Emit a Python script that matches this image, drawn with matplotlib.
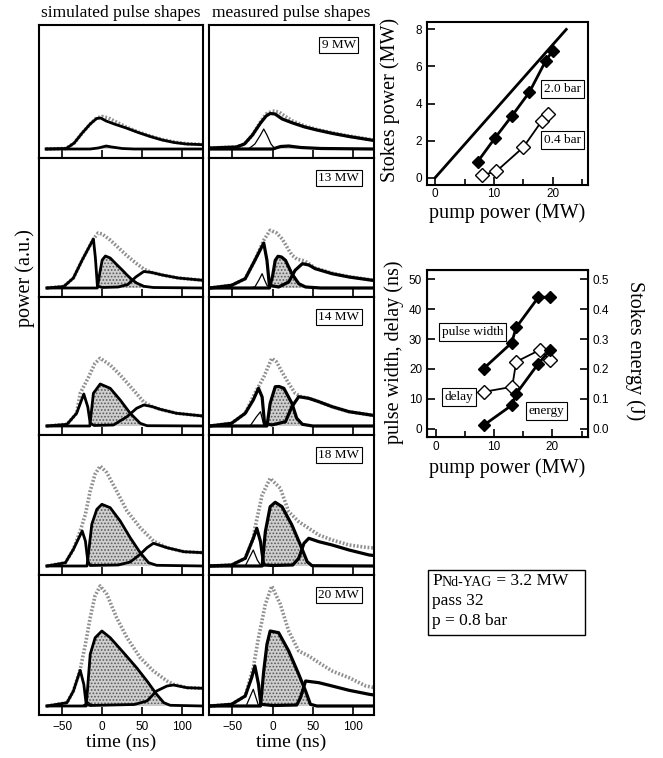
import numpy as np
import matplotlib
matplotlib.use('Agg')
import matplotlib.pyplot as plt
from matplotlib.patches import Rectangle
from matplotlib.ticker import MultipleLocator

# ---------------- data: pulse shapes (time ns, power a.u.) ----------------
row_labels = ['9 MW', '13 MW', '14 MW', '18 MW', '20 MW']
time_ticks = [-50, 0, 50, 100]

sim09_input = [(-70,0),(-45,0.5),(-35,6),(-25,16),(-15,25),(-7,31),(0,32.5),(8,31),(15,28),(30,22),(45,17),(60,13),(75,9.5),(90,7),(105,5.3),(126,4.5)]
sim09_pump = [(-70,0),(-45,0.5),(-35,6),(-25,16),(-15,25),(-7,30.5),(-2,31),(5,28),(15,25),(30,21),(45,16.5),(60,12.5),(75,9),(90,6.5),(105,5),(126,4.3)]
sim09_stokes = [(-70,0),(-15,0),(-5,1),(5,3),(12,2),(25,0.5),(40,0),(126,0)]

mea09_input = [(-78,1),(-45,2),(-35,5),(-25,14),(-15,27),(-8,35),(0,38),(8,37),(15,33),(25,28),(40,23),(55,19.5),(75,16),(95,13),(126,9)]
mea09_pump = [(-78,1),(-45,2),(-35,5),(-25,14),(-15,26),(-8,33),(-3,35.5),(3,35),(12,30),(25,26),(40,22),(55,19),(75,15.5),(95,12.5),(126,8.5)]
mea09_stokes = [(-78,0),(0,0),(10,2.5),(20,3),(35,1.5),(60,0.5),(126,0)]
mea09_thin = [(-30,0),(-22,5),(-15,14),(-11,20),(-7,14),(-2,5),(3,0)]

sim13_input = [(-69,0),(-48,1.5),(-36,10),(-25,28),(-15,43),(-11,49),(-5,55),(0,54),(10,48),(18,42),(30,33),(42,25),(52,19),(62,15.5),(75,13),(95,10),(126,7.7)]
sim13_pump = [(-69,0),(-48,1.5),(-36,10),(-25,28),(-15,43),(-11,49),(-8.5,30),(-6,2),(0,0.5),(20,1),(32,3.5),(42,11),(52,16.5),(62,15.5),(75,13),(95,10),(126,7.7)]
sim13_stokes = [(-69,0),(-6,0),(-3,15),(0,28),(4,32),(10,30),(18,23.5),(25,18),(31,13),(37,8.5),(43,5),(52,1.7),(64,0.5),(126,0)]

mea13_input = [(-78,0),(-51,2.7),(-34,9.3),(-22,27.7),(-11,47.7),(-3,57.7),(5,55),(12,49),(20,38),(24,33),(30,29),(40,27),(53,20),(74,14.8),(95,11.3),(126,7.7)]
mea13_pump = [(-78,0),(-51,2.7),(-34,9.3),(-22,27.7),(-11,45),(-7,27.7),(-4,2.7),(7.5,1),(20,6),(28,17.7),(37,24.3),(45,23),(53,19.3),(74,14.3),(95,11),(126,7.5)]
mea13_stokes = [(-78,0),(-4,0),(0,12),(3.3,27.7),(6.7,31.7),(11,31),(16,27.7),(24,14.3),(32.5,4.3),(41,1),(60,0),(126,0)]
mea13_thin = [(-30,0),(-22,1),(-17,8),(-13,14.3),(-10,8),(-7,2.7),(-3,0)]

sim14_input = [(-69,0),(-44,1.7),(-32,12.7),(-27.5,32.7),(-17,49),(-9,62.7),(-2.5,67.7),(10,61),(22.5,51),(39,36),(52,24),(62,19.5),(72.5,16.7),(93,12.7),(126,10)]
sim14_pump = [(-69,0),(-44,1.7),(-32,12.7),(-23,32),(-18,19),(-15,2.7),(-10,0.5),(14,1),(31,9.3),(43,17.7),(52,21),(62,19.5),(72.5,16.7),(93,12.7),(126,10)]
sim14_stokes = [(-69,0),(-15.5,0),(-13,18),(-11,32.7),(-2.5,42),(10,37.7),(22.5,26),(35,12.7),(47.5,2.7),(56,0.3),(126,0)]

mea14_input = [(-78,0),(-51,2.7),(-34,12.7),(-22,32.7),(-11,49),(-1,67.7),(5,64),(11.7,54),(20,42.7),(28,32.7),(35,29.5),(45,27.7),(57.5,24.3),(74,19.3),(95,14.3),(126,10.5)]
mea14_pump = [(-78,0),(-51,2.7),(-34,12.7),(-24,26),(-17.5,37.7),(-13,29),(-10,2.7),(-1,1),(16,4.3),(24,19.3),(32.5,29.3),(45,27.7),(57.5,24.3),(74,19.3),(95,14.3),(126,10.5)]
mea14_stokes = [(-78,0),(-7,0),(-3,22.7),(3.3,39.3),(8,39.5),(14,37.7),(24,22.7),(30,7.7),(37,1.7),(50,0),(126,0)]
mea14_thin = [(-28,0),(-20,9.3),(-15,14.3),(-11,1),(-8,0)]

sim18_input = [(-69,0),(-46,3.3),(-36,16.7),(-27.5,35),(-21,51.7),(-15,75),(-9,91.7),(-2.5,100),(5.8,93.3),(18,75),(31,55),(47.5,38.3),(64,25),(81,18.3),(102,14.3),(126,13.3)]
sim18_pump = [(-69,0),(-46,3.3),(-36,16.7),(-25,35),(-21,25),(-18,5),(-15,0.5),(20,1),(35,4),(47.5,11.7),(56,18.3),(64,22.7),(81,18.3),(102,14.3),(126,13.3)]
sim18_stokes = [(-69,0),(-19,0),(-13,41.7),(-6.7,56.7),(-0.4,61.7),(10,58.3),(22.5,45),(35,28.3),(47.5,13.3),(58,3.3),(68,0.7),(126,0)]

mea18_input = [(-78,0),(-51,1),(-34,7.7),(-24,27.7),(-22,37.7),(-13,71),(-3,87.7),(9.6,77.7),(20,54.3),(32.5,44.3),(45,37.7),(57.5,31),(74,26),(95,21),(116,18.7),(126,18)]
mea18_pump = [(-78,0),(-51,1),(-34,7.7),(-24,27.7),(-19.6,37.7),(-15,24.3),(-11,1),(0,0.5),(25,1),(32.5,7.7),(39,22.7),(45,27.7),(57.5,24.3),(74,21),(95,16),(120,11),(126,10.5)]
mea18_stokes = [(-78,0),(-13,0),(-9,34.3),(-3,59.3),(3.3,63.7),(11.7,59.3),(24,41),(34.6,21),(43,4.3),(49,0.3),(126,0)]
mea18_thin = [(-34,0),(-29,8),(-24,16),(-19,6),(-15,1),(-12,0)]

sim20_input = [(-69,0),(-44,3.3),(-36,15),(-27.5,36.7),(-21,61.7),(-15,88.3),(-9,110),(-2.5,120),(5.8,111.7),(18,88.3),(31,68.3),(47.5,48.3),(64,35),(81,25),(89,21.7),(106,18.3),(126,17.7)]
sim20_pump = [(-69,0),(-44,3.3),(-36,15),(-27.5,35.7),(-23,21.7),(-20,1.7),(-15,0.5),(40,1.5),(56,5),(68,15),(81,20),(89,21),(106,18.3),(126,17.7)]
sim20_stokes = [(-69,0),(-20,0),(-15,51.7),(-8.8,68.3),(-0.4,75),(10,68.3),(26.7,53.3),(43,38.3),(56,25),(68,11.7),(77,3.3),(85,0.7),(126,0)]
sim20_thin = [(-25,0),(-18,4),(-12,0.5)]

mea20_input = [(-78,0),(-51,1.7),(-34,10),(-24,38.3),(-17.5,68.3),(-9,101.7),(-1,120),(9.6,101.7),(20,75),(32.5,55),(45,50),(57.5,43.3),(74,35),(95,28.3),(116,20),(126,18.5)]
mea20_pump = [(-78,0),(-51,1.7),(-34,10),(-26,28.3),(-22,40),(-17.5,21.7),(-14.6,1.7),(0,0.5),(30,1),(34.6,8.3),(41,25),(57.5,23.3),(74,20),(95,15.7),(120,11.7),(126,11)]
mea20_stokes = [(-78,0),(-15,0),(-11,35),(-7,61.7),(-3,75),(7.5,73.3),(20,55),(32.5,31.7),(41,15),(47,1.7),(55,0),(126,0)]
mea20_thin = [(-32,1.7),(-24,16.7),(-18,1.7),(-15,0)]

# ---------------- data: Stokes power vs pump power ----------------
limit_pump = [0, 22.3]
limit_stokes = [0, 8.0]
pump_2bar = [7.2, 10.2, 13.1, 16.0, 18.8, 20.0]
stokes_2bar = [0.85, 2.15, 3.35, 4.6, 6.3, 6.85]
pump_04bar = [7.9, 10.4, 15.0, 18.1, 19.2]
stokes_04bar = [0.12, 0.34, 1.64, 3.04, 3.44]

# ---------------- data: pulse width, delay, energy ----------------
pw_pump = [8.2, 13.0, 13.8, 17.6, 19.5]
pulse_width = [20.1, 28.7, 33.9, 44.0, 44.0]
delay_pump = [8.2, 13.1, 13.8, 17.8, 19.6]
delay_ns = [12.3, 14.0, 22.4, 26.3, 22.9]
energy_pump = [8.2, 13.0, 13.8, 17.6, 19.6]
energy_j = [0.011, 0.078, 0.117, 0.218, 0.263]

# ---------------- figure ----------------
plt.rcParams['font.family'] = ['Liberation Serif', 'DejaVu Serif']
plt.rcParams['hatch.color'] = '#505050'
plt.rcParams['hatch.linewidth'] = 0.8
SANS = ['Liberation Sans', 'DejaVu Sans']

W, H = 663, 758
fig = plt.figure(figsize=(W / 100, H / 100), dpi=100)


def rect(l, t, r, b):
    return [l / W, 1 - b / H, (r - l) / W, (b - t) / H]


row_tops = [25, 158, 297, 435, 575]
row_bots = [158, 297, 435, 575, 715]
col_x = [(39, 203), (209, 374)]

sim_sets = [(sim09_input, sim09_pump, sim09_stokes, None),
            (sim13_input, sim13_pump, sim13_stokes, None),
            (sim14_input, sim14_pump, sim14_stokes, None),
            (sim18_input, sim18_pump, sim18_stokes, None),
            (sim20_input, sim20_pump, sim20_stokes, sim20_thin)]
mea_sets = [(mea09_input, mea09_pump, mea09_stokes, mea09_thin),
            (mea13_input, mea13_pump, mea13_stokes, mea13_thin),
            (mea14_input, mea14_pump, mea14_stokes, mea14_thin),
            (mea18_input, mea18_pump, mea18_stokes, mea18_thin),
            (mea20_input, mea20_pump, mea20_stokes, mea20_thin)]


def draw_panel(ax, curves, lw_main):
    inp, pump, stokes, thin = curves
    t, p = np.array(inp, dtype=float).T
    ax.plot(t, p, color='#909090', lw=2.6, ls=(0, (0.5, 0.5)), zorder=2)
    t, p = np.array(stokes, dtype=float).T
    ax.fill_between(t, 0, p, facecolor='#cfcfcf', hatch='.....', edgecolor='#5a5a5a',
                    lw=0, zorder=3)
    ax.plot(t, p, color='k', lw=lw_main, zorder=4)
    t, p = np.array(pump, dtype=float).T
    ax.plot(t, p, color='k', lw=lw_main, zorder=5)
    if thin is not None:
        t, p = np.array(thin, dtype=float).T
        ax.plot(t, p, color='k', lw=0.9, zorder=6)


for r in range(5):
    rh = row_bots[r] - row_tops[r]
    for c in range(2):
        l, rr = col_x[c]
        ax = fig.add_axes(rect(l, row_tops[r], rr, row_bots[r]))
        draw_panel(ax, sim_sets[r] if c == 0 else mea_sets[r], 2.0 if c == 0 else 2.3)
        ax.set_xlim(-79, 126)
        ax.set_ylim(-9, rh - 9)
        ax.set_yticks([])
        ax.set_xticks(time_ticks)
        ax.tick_params(axis='x', direction='in', length=6, width=1.2,
                       labelbottom=(r == 4), labelsize=8.5, pad=4)
        for lab in ax.get_xticklabels():
            lab.set_family(SANS)
        for s in ax.spines.values():
            s.set_linewidth(1.5)
        if c == 1:
            ax.text(0.787, 1 - 20 / rh, row_labels[r], transform=ax.transAxes,
                    ha='center', va='center', fontsize=9.5, zorder=10,
                    bbox=dict(boxstyle='square,pad=0.18', fc='white', ec='k', lw=0.8))

fig.text(121 / W, 1 - 13 / H, 'simulated pulse shapes', ha='center', va='center', fontsize=12.5)
fig.text(291 / W, 1 - 13 / H, 'measured pulse shapes', ha='center', va='center', fontsize=12.5)
fig.text(121 / W, 1 - 742 / H, 'time (ns)', ha='center', va='center', fontsize=14)
fig.text(291 / W, 1 - 742 / H, 'time (ns)', ha='center', va='center', fontsize=14)
fig.text(25 / W, 1 - 278 / H, 'power (a.u.)', ha='center', va='center', rotation=90, fontsize=14.5)

# ---------------- Stokes power plot ----------------
axA = fig.add_axes(rect(427, 22, 588, 185))
axA.plot(limit_pump, limit_stokes, color='k', lw=2.0)
axA.plot(pump_2bar, stokes_2bar, color='k', lw=2.0, marker='D', ms=6, mfc='k', mec='k')
axA.plot(pump_04bar, stokes_04bar, color='k', lw=1.3, marker='D', ms=7.5, mfc='white', mec='k', mew=1.0)
axA.set_xlim(-1.4, 26)
axA.set_ylim(-0.4, 8.4)
axA.set_xticks([0, 10, 20])
axA.set_yticks([0, 2, 4, 6, 8])
axA.xaxis.set_minor_locator(MultipleLocator(5))
axA.tick_params(which='both', direction='in', width=1.2, labelsize=8.5)
axA.tick_params(which='major', length=6)
axA.tick_params(which='minor', length=4)
axA.tick_params(axis='x', pad=2)
for lab in axA.get_xticklabels() + axA.get_yticklabels():
    lab.set_family(SANS)
for s in axA.spines.values():
    s.set_linewidth(1.5)
box = dict(boxstyle='square,pad=0.22', fc='white', ec='k', lw=0.8)
axA.text(21.7, 4.8, '2.0 bar', ha='center', va='center', fontsize=9.5, bbox=box)
axA.text(21.7, 2.05, '0.4 bar', ha='center', va='center', fontsize=9.5, bbox=box)
fig.text(390 / W, 1 - 100 / H, 'Stokes power (MW)', rotation=90, ha='center', va='center', fontsize=14.5)
fig.text(507 / W, 1 - 213 / H, 'pump power (MW)', ha='center', va='center', fontsize=14.5)

# ---------------- pulse width / delay / energy plot ----------------
axB = fig.add_axes(rect(427, 270, 588, 437))
axB.plot(pw_pump, pulse_width, color='k', lw=2.0, marker='D', ms=6, mfc='k', mec='k', zorder=4)
axB.plot(delay_pump, delay_ns, color='k', lw=1.3, marker='D', ms=7.5, mfc='white', mec='k', mew=1.0, zorder=3)
axB.set_xlim(-1.5, 26.1)
axB.set_ylim(-2.8, 53.1)
axB.set_xticks([0, 10, 20])
axB.set_yticks([0, 10, 20, 30, 40, 50])
axB.xaxis.set_minor_locator(MultipleLocator(5))
axB.tick_params(which='both', direction='in', width=1.2, labelsize=8.5)
axB.tick_params(which='major', length=6)
axB.tick_params(which='minor', length=4)
axB.tick_params(axis='x', pad=3)
for s in axB.spines.values():
    s.set_linewidth(1.5)
axB2 = axB.twinx()
axB2.plot(energy_pump, energy_j, color='k', lw=2.0, marker='D', ms=6, mfc='k', mec='k', zorder=4)
axB2.set_ylim(-0.028, 0.531)
axB2.set_yticks([0.0, 0.1, 0.2, 0.3, 0.4, 0.5])
axB2.set_yticklabels(['0.0', '0.1', '0.2', '0.3', '0.4', '0.5'])
axB2.tick_params(direction='in', length=6, width=1.2, labelsize=8.5)
for lab in axB.get_xticklabels() + axB.get_yticklabels() + axB2.get_yticklabels():
    lab.set_family(SANS)
axB2.text(6.3, 0.324, 'pulse width', ha='center', va='center', fontsize=9.5, bbox=box, zorder=6)
axB2.text(4.0, 0.106, 'delay', ha='center', va='center', fontsize=9.5, bbox=box, zorder=6)
axB2.text(19.0, 0.06, 'energy', ha='center', va='center', fontsize=9.5, bbox=box, zorder=6)
fig.text(394 / W, 1 - 352 / H, 'pulse width, delay (ns)', rotation=90, ha='center', va='center', fontsize=14.5)
fig.text(635 / W, 1 - 351 / H, 'Stokes energy (J)', rotation=270, ha='center', va='center', fontsize=14.5)
fig.text(507 / W, 1 - 468 / H, 'pump power (MW)', ha='center', va='center', fontsize=14.5)

# ---------------- parameter box ----------------
fig.add_artist(Rectangle((428 / W, 1 - 635 / H), 157 / W, 65 / H, transform=fig.transFigure,
                         fill=False, ec='k', lw=1.0))
tP = fig.text(432 / W, 1 - 585 / H, 'P', ha='left', va='baseline', fontsize=12.5)
tS = fig.add_artist(plt.Annotation('Nd-YAG', xy=(1, 0), xycoords=tP, va='bottom', ha='left', fontsize=10))
fig.add_artist(plt.Annotation(' = 3.2 MW', xy=(1, 0), xycoords=tS, va='bottom', ha='left', fontsize=12.5))
fig.text(432 / W, 1 - 605 / H, 'pass 32', ha='left', va='baseline', fontsize=12.5)
fig.text(432 / W, 1 - 625 / H, 'p = 0.8 bar', ha='left', va='baseline', fontsize=12.5)

fig.savefig('out.png', dpi=100)
